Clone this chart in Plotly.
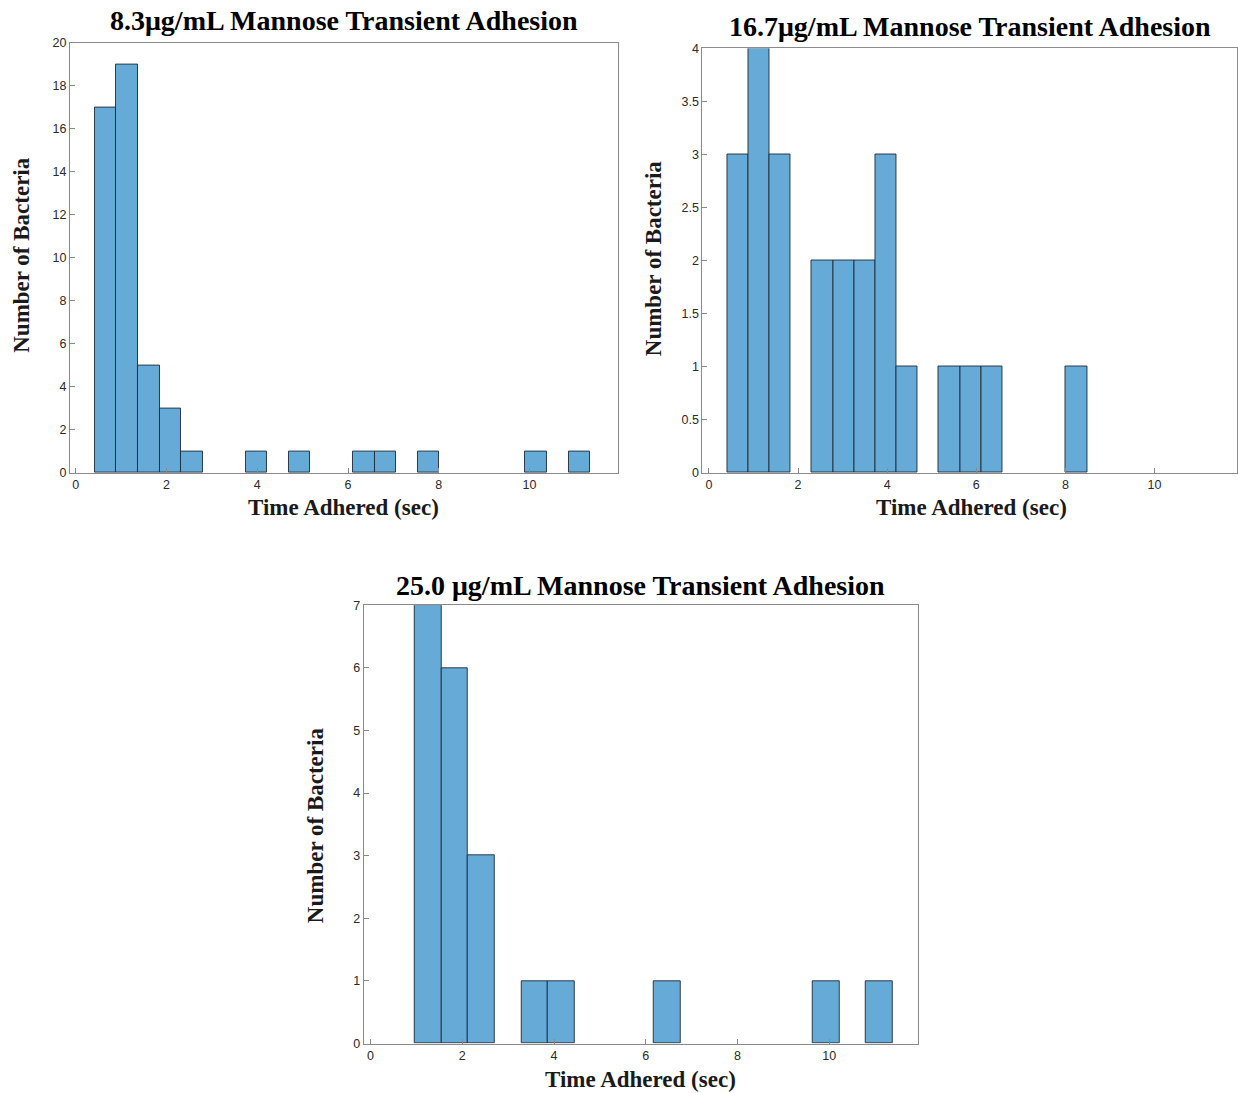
import plotly.graph_objects as go

# ---------------- data ----------------
titles = ["8.3\u03bcg/mL Mannose Transient Adhesion",
          "16.7\u03bcg/mL Mannose Transient Adhesion",
          "25.0 \u03bcg/mL Mannose Transient Adhesion"]
x_label = "Time Adhered (sec)"
y_label = "Number of Bacteria"

# histogram 1 (8.3 ug/mL)
bins1_start = 0.42
bins1_width = 0.4745
counts1 = [17, 19, 5, 3, 1, 0, 0, 1, 0, 1, 0, 0, 1, 1, 0, 1, 0, 0, 0, 0, 1, 0, 1]

# histogram 2 (16.7 ug/mL)
bins2_start = 0.41
bins2_width = 0.475
counts2 = [3, 4, 3, 0, 2, 2, 2, 3, 1, 0, 1, 1, 1, 0, 0, 0, 1]

# histogram 3 (25.0 ug/mL)
bins3_start = 0.972
bins3_width = 0.578
counts3 = [7, 6, 3, 0, 1, 1, 0, 0, 0, 1, 0, 0, 0, 0, 0, 1, 0, 1]

x_ticks = [0, 2, 4, 6, 8, 10]
y_ticks1 = list(range(0, 21, 2))
y_ticks2 = [0, 0.5, 1, 1.5, 2, 2.5, 3, 3.5, 4]
y_ticks3 = list(range(0, 8))

# ---------------- figure ----------------
W, H = 1238, 1093
BAR = "#66AAD7"
EDGE = "#1e2a36"
AX = "#8a8a8a"
TICKFONT = dict(family="Liberation Sans, Arial, sans-serif", size=12.5, color="#2a2a2a")
SERIF = "Liberation Serif, Times New Roman, serif"

fig = go.Figure()


def add_hist(start, width, counts, xa, ya):
    xs, ys = [], []
    for i, c in enumerate(counts):
        if c > 0:
            xs.append(start + width * (i + 0.5))
            ys.append(c)
    fig.add_trace(go.Bar(x=xs, y=ys, width=width, xaxis=xa, yaxis=ya,
                         marker=dict(color=BAR, line=dict(color=EDGE, width=0.9)),
                         showlegend=False, hoverinfo="x+y"))


add_hist(bins1_start, bins1_width, counts1, "x", "y")
add_hist(bins2_start, bins2_width, counts2, "x2", "y2")
add_hist(bins3_start, bins3_width, counts3, "x3", "y3")


def px_x(p):
    return p / W


def px_y(p):
    return 1 - p / H


def xaxis(dom, rng, anchor):
    return dict(domain=dom, range=rng, anchor=anchor, tickmode="array", tickvals=x_ticks,
                ticks="inside", ticklen=5, tickcolor=AX, tickwidth=1,
                showline=True, linecolor=AX, linewidth=1, mirror=True,
                showgrid=False, zeroline=False, tickfont=TICKFONT, fixedrange=True)


def yaxis(dom, rng, anchor, vals):
    return dict(domain=dom, range=rng, anchor=anchor, tickmode="array", tickvals=vals,
                ticks="inside", ticklen=5, tickcolor=AX, tickwidth=1,
                showline=True, linecolor=AX, linewidth=1, mirror=True,
                showgrid=False, zeroline=False, tickfont=TICKFONT, fixedrange=True)


fig.update_layout(
    width=W, height=H, margin=dict(l=0, r=0, t=0, b=0),
    paper_bgcolor="white", plot_bgcolor="white", bargap=0,
    xaxis=xaxis([px_x(70), px_x(618)], [-0.13, 11.94], "y"),
    yaxis=yaxis([px_y(472), px_y(36)], [0, 20], "x", y_ticks1),
    xaxis2=xaxis([px_x(703), 1.0], [-0.145, 11.85], "y2"),
    yaxis2=yaxis([px_y(472), px_y(42)], [0, 4], "x2", y_ticks2),
    xaxis3=xaxis([px_x(364), px_x(919)], [-0.15, 11.94], "y3"),
    yaxis3=yaxis([px_y(1050), px_y(606)], [0, 7], "x3", y_ticks3),
)

TFONT = dict(family=SERIF, size=28, color="black")
LFONT = dict(family=SERIF, size=23, color="#1a1a1a")


def ann(text, x, y, font, angle=0):
    fig.add_annotation(text="<b>" + text + "</b>", x=px_x(x), y=px_y(y), xref="paper", yref="paper",
                       xanchor="center", yanchor="middle", showarrow=False, font=font,
                       textangle=angle)


ann(titles[0], 344, 14, TFONT)
ann(titles[1], 971, 20, TFONT)
ann(titles[2], 641, 586, TFONT)
ann(x_label, 344, 507, LFONT)
ann(x_label, 972, 507, LFONT)
ann(x_label, 641, 1086, LFONT)
ann(y_label, 22, 251, LFONT, -90)
ann(y_label, 654, 254, LFONT, -90)
ann(y_label, 316, 829, LFONT, -90)

fig.write_html("out.html")
